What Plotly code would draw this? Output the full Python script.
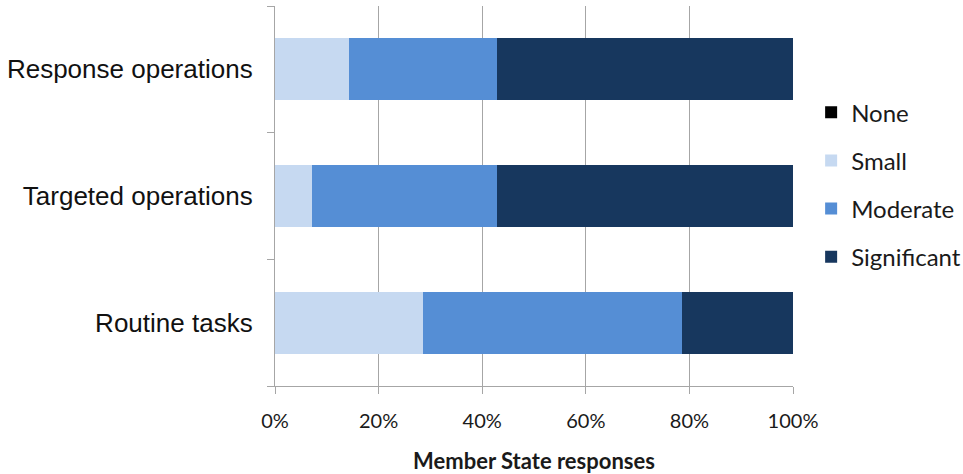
import plotly.graph_objects as go

categories = ["Routine tasks", "Targeted operations", "Response operations"]
none_vals = [0, 0, 0]
small_vals = [28.6, 7.1, 14.3]
moderate_vals = [50.0, 35.8, 28.6]
significant_vals = [21.4, 57.1, 57.1]
tick_vals = [0, 20, 40, 60, 80, 100]
tick_text = ["0%", "20%", "40%", "60%", "80%", "100%"]

series = [
    ("None", none_vals, "#000000"),
    ("Small", small_vals, "#C6D9F1"),
    ("Moderate", moderate_vals, "#558ED5"),
    ("Significant", significant_vals, "#17375E"),
]

fig = go.Figure()
for name, vals, color in series:
    fig.add_trace(go.Bar(
        y=categories, x=vals, name=name, orientation="h",
        marker=dict(color=color, line=dict(width=0)),
        legendgroup=name,
    ))

calibri_like = "Lato, Open Sans, sans-serif"
arial_like = "Liberation Sans, Arial, sans-serif"
fig.update_layout(
    barmode="stack",
    bargap=0.51,
    width=963, height=474,
    margin=dict(l=275, r=170, t=6, b=88, autoexpand=False),
    plot_bgcolor="white", paper_bgcolor="white",
    font=dict(family=calibri_like, size=20, color="#1a1a1a"),
    showlegend=True,
    legend=dict(
        x=1.035, xanchor="left", y=0.53, yanchor="middle",
        traceorder="grouped", tracegroupgap=14,
        font=dict(size=24, color="#1a1a1a"),
        itemwidth=30,
    ),
    xaxis=dict(
        range=[0, 100], tickvals=tick_vals, ticktext=tick_text,
        showgrid=True, gridcolor="#A6A6A6", gridwidth=1.3,
        showline=True, linecolor="#A6A6A6", linewidth=1.3,
        ticks="outside", ticklen=7, tickcolor="#A6A6A6",
        tickfont=dict(size=20), ticklabelstandoff=10, zeroline=False,
        title=dict(text="<b>Member State responses</b>", font=dict(size=22), standoff=26),
        fixedrange=True,
    ),
    yaxis=dict(
        categoryorder="array", categoryarray=categories,
        showline=True, linecolor="#A6A6A6", linewidth=1.3,
        ticks="outside", ticklen=7, tickcolor="#A6A6A6", tickson="boundaries",
        tickfont=dict(size=26, family=arial_like, color="#111111"), ticklabelstandoff=16,
        showgrid=False, fixedrange=True,
    ),
)

fig.write_html(
    "out.html",
    config={"displayModeBar": False},
    post_script="document.body.style.margin='0';",
)
